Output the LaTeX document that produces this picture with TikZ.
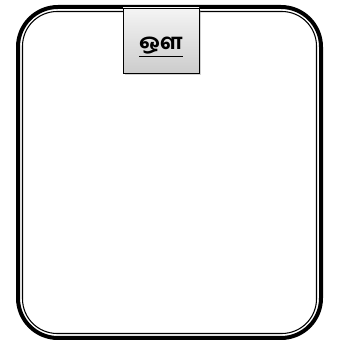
\documentclass[tikz,border=0pt]{standalone}
\usepackage{fontspec}
\newfontfamily\tamilfont[Script=Tamil]{Hind Madurai Bold}
\usetikzlibrary{shadows,positioning}

\begin{document}
\begin{tikzpicture}[x=0.75pt, y=-0.75pt,
  outerframe/.style={draw, line width=3pt, rounded corners=30pt},
  innerframe/.style={draw, line width=0.8pt, rounded corners=26pt},
  tab/.style={draw, thin, top color=gray!8, bottom color=gray!40,
              minimum width=57pt, minimum height=49pt,
              drop shadow={shadow xshift=1.5pt, shadow yshift=-1.5pt, opacity=0.35},
              font=\tamilfont\fontsize{16}{16}\selectfont, inner sep=0pt,
              text height=14pt, text depth=0pt}
]
\useasboundingbox (0,0) rectangle (342,341);
\draw[outerframe] (18,7) rectangle (321,338);
\draw[innerframe] (22.5,11.5) rectangle (316.5,333.5);
\node[tab] (au) at (161,40.5) {\underline{ஔ}};
\end{tikzpicture}
\end{document}
